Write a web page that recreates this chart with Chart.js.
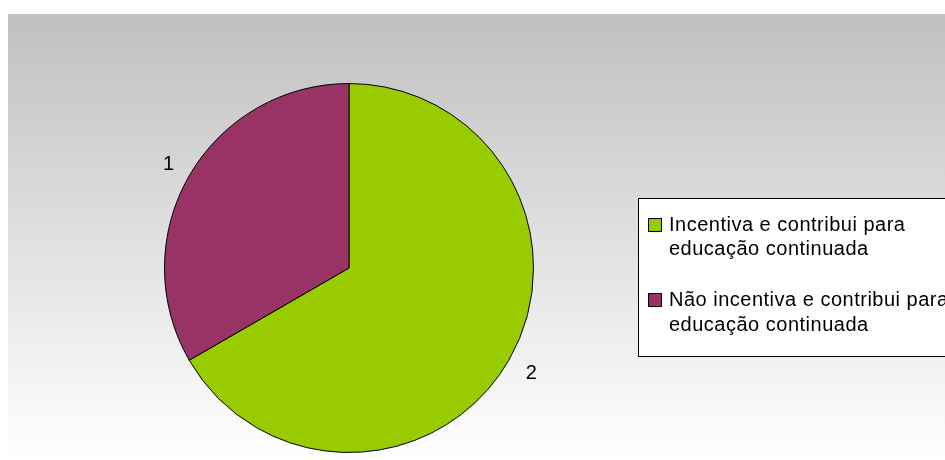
<!DOCTYPE html>
<html>
<head>
<meta charset="utf-8">
<script src="https://cdn.jsdelivr.net/npm/chart.js@4"></script>
<style>
  body { margin: 0; background: #fff; }
  #grafico-wrap { position: relative; width: 945px; height: 460px; }
</style>
</head>
<body>
<div id="grafico-wrap"><canvas id="grafico-pizza" width="945" height="460"></canvas></div>
<script>
// Dados do gráfico
const categorias = ['Incentiva e contribui para educação continuada', 'Não incentiva e contribui para educação continuada'];
const linhasLegenda = [['Incentiva e contribui para', 'educação continuada'], ['Não incentiva e contribui para', 'educação continuada']];
const valores = [2, 1];
const rotulos = ['2', '1'];
const cores = ['#99cc00', '#993366'];

const FONTE = '"Liberation Sans", Arial, sans-serif';

// Fundo em degradê cinza -> branco
const fundoPlugin = {
  id: 'fundo',
  beforeDraw(chart) {
    const ctx = chart.ctx;
    ctx.save();
    const grad = ctx.createLinearGradient(0, 14, 0, 460);
    grad.addColorStop(0, '#c0c0c0');
    grad.addColorStop(1, '#ffffff');
    ctx.fillStyle = grad;
    ctx.fillRect(8, 14, chart.width - 8, chart.height - 14);
    ctx.restore();
  }
};

// Rótulos fora das fatias
const rotulosPlugin = {
  id: 'rotulos',
  afterDatasetsDraw(chart) {
    const ctx = chart.ctx;
    const meta = chart.getDatasetMeta(0);
    ctx.save();
    ctx.font = '20px ' + FONTE;
    ctx.fillStyle = '#000';
    ctx.textAlign = 'center';
    ctx.textBaseline = 'middle';
    meta.data.forEach((arc, i) => {
      const p = arc.getProps(['x', 'y', 'startAngle', 'endAngle', 'outerRadius']);
      const meio = (p.startAngle + p.endAngle) / 2;
      const r = p.outerRadius + 25;
      ctx.fillText(rotulos[i], p.x + Math.cos(meio) * r + 1, p.y + Math.sin(meio) * r + 1);
    });
    ctx.restore();
  }
};

// Legenda em caixa à direita
const legendaPlugin = {
  id: 'legendaCaixa',
  afterDraw(chart) {
    const ctx = chart.ctx;
    ctx.save();
    ctx.fillStyle = '#fff';
    ctx.fillRect(638, 198, 320, 158);
    ctx.strokeStyle = '#000';
    ctx.lineWidth = 1;
    ctx.strokeRect(638.5, 198.5, 320, 158);

    const linhaY = [[225, 249], [300, 325]];
    ctx.font = '20px ' + FONTE;
    ctx.letterSpacing = '0.5px';
    ctx.textBaseline = 'middle';
    linhasLegenda.forEach((linhas, i) => {
      ctx.fillStyle = cores[i];
      ctx.fillRect(648.5, linhaY[i][0] - 6.5, 13, 13);
      ctx.strokeStyle = '#000';
      ctx.strokeRect(648.5, linhaY[i][0] - 6.5, 13, 13);
      ctx.fillStyle = '#000';
      linhas.forEach((txt, j) => ctx.fillText(txt, 669, linhaY[i][j]));
    });
    ctx.restore();
  }
};

const canvas = document.getElementById('grafico-pizza');
new Chart(canvas, {
  type: 'pie',
  data: {
    labels: categorias,
    datasets: [{
      data: valores,
      backgroundColor: cores,
      borderColor: '#000',
      borderWidth: 1
    }]
  },
  options: {
    responsive: false,
    animation: false,
    layout: {
      padding: { left: 163, right: 410, top: 83, bottom: 7 }
    },
    plugins: {
      legend: { display: false },
      tooltip: { enabled: false }
    }
  },
  plugins: [fundoPlugin, rotulosPlugin, legendaPlugin]
});
</script>
</body>
</html>
